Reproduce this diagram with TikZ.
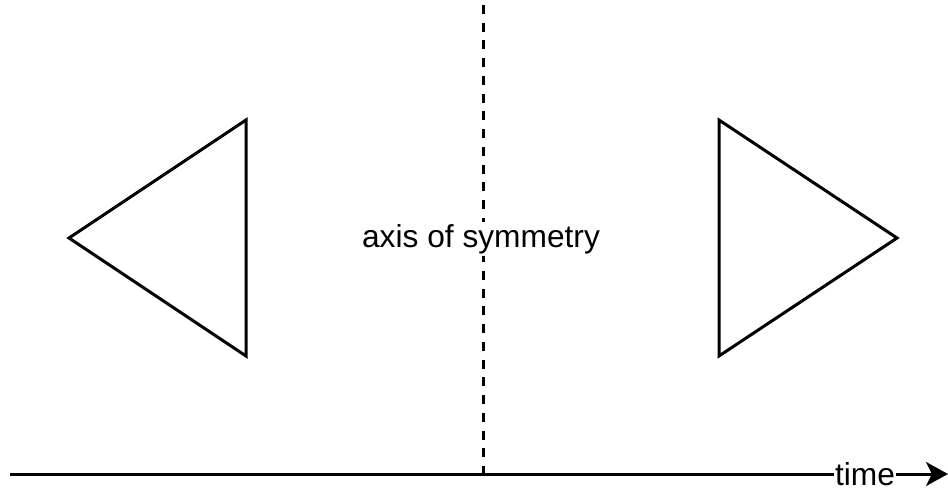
\documentclass[tikz,border=0pt]{standalone}
\usepackage{fontspec}
\setmainfont{Liberation Sans}
\usepackage{tikz}
\usetikzlibrary{arrows.meta, positioning}

\begin{document}
\begin{tikzpicture}[
    x=1pt, y=-1pt,
    tri/.style={draw, line width=3pt, line join=miter},
    axisline/.style={line width=3pt, dash pattern=on 9pt off 8.73pt, dash phase=12.73pt},
    arr/.style={-{Stealth[length=22pt, width=24pt, inset=6pt]}, line width=3pt},
    lbl/.style={fill=white, inner sep=2pt, font=\fontsize{31.7}{38}\selectfont},
  ]
    \useasboundingbox (0,0) rectangle (948,490);

    \draw[tri] (246,120) -- (69,238) -- (246,356) -- cycle;
    \draw[tri] (719,120) -- (897,238) -- (719,356) -- cycle;

    \coordinate (axtop) at (483,0);
    \coordinate (axbot) at (483,474);
    \coordinate (tstart) at (10,474);
    \coordinate (tend) at (948,474);

    \draw[axisline] (axtop) -- (axbot);
    \node[lbl, anchor=base] (axislbl) at (481,247) {axis of symmetry};

    \draw[arr] (tstart) -- (tend);
    \node[lbl, inner sep=1pt, text depth=0pt, anchor=base] (timelbl) at (865,485) {time};
  \end{tikzpicture}
\end{document}
